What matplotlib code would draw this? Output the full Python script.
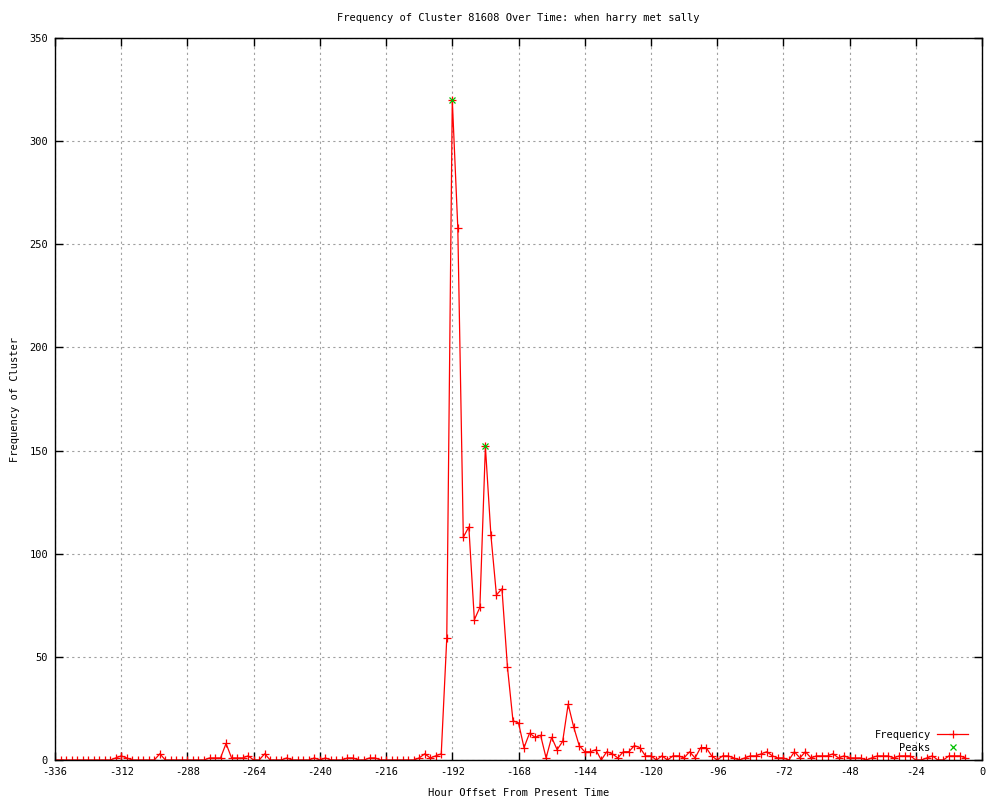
import matplotlib
matplotlib.use("Agg")
import matplotlib.pyplot as plt

plt.rcParams["font.family"] = ["DejaVu Sans Mono"]
plt.rcParams["font.size"] = 7.5
plt.rcParams["axes.unicode_minus"] = False

# hour offsets (every 2 hours) and cluster frequency
hours = list(range(-336, -5, 2))
freq = [
    0, 0, 0, 0, 0, 0, 0, 0, 0, 0, 0, 1, 2, 1, 0, 0, 0, 0, 0, 3,   # -336 .. -298
    0, 0, 0, 0, 0, 0, 0, 0, 1, 1, 1, 8, 1, 1, 1, 2, 0, 0, 3, 0,   # -296 .. -258
    0, 0, 1, 0, 0, 0, 0, 1, 0, 1, 0, 0, 0, 1, 1, 0, 0, 1, 1, 0,   # -256 .. -218
    0, 0, 0, 0, 0, 0, 1, 3, 1, 2, 3, 59, 320, 258, 108, 113, 68, 74, 152, 109,  # -216 .. -178
    80, 83, 45, 19, 18, 6, 13, 11, 12, 1, 11, 5, 9, 27, 16, 7, 4, 4, 5, 0,  # -176 .. -138
    4, 3, 1, 4, 4, 7, 6, 2, 2, 0, 2, 0, 2, 2, 1, 4, 1, 6, 6, 2,   # -136 .. -98
    0, 2, 2, 1, 0, 1, 2, 2, 3, 4, 2, 1, 1, 0, 4, 1, 4, 1, 2, 2,   # -96 .. -58
    2, 3, 1, 2, 1, 1, 1, 0, 1, 2, 2, 2, 1, 2, 2, 2, 0, 0, 1, 2,   # -56 .. -18
    0, 0, 2, 2, 2, 1,                                             # -16 .. -6
]
peak_hours = [-192, -180]
peak_freq = [320, 152]

xticks = list(range(-336, 1, 24))
yticks = list(range(0, 351, 50))

fig = plt.figure(figsize=(10, 8), dpi=100)
ax = fig.add_axes([0.055, 0.05, 0.927, 0.9025])

ax.plot(hours, freq, color="red", lw=0.9, marker="+", ms=5.5, mew=0.9,
        label="Frequency")
ax.plot(peak_hours, peak_freq, ls="none", color="#00c000", marker="x",
        ms=5, mew=0.9, label="Peaks")

ax.set_xlim(-336, 0)
ax.set_ylim(0, 350)
ax.set_xticks(xticks)
ax.set_yticks(yticks)
ax.tick_params(direction="in", length=6, width=1, top=True, right=True,
               labelsize=7.5, pad=5)
ax.grid(True, color="#a0a0a0", ls=(0, (2, 3)), lw=0.8)
for s in ax.spines.values():
    s.set_linewidth(1)

ax.set_title("Frequency of Cluster 81608 Over Time: when harry met sally",
             fontsize=7.5, pad=12)
ax.set_xlabel("Hour Offset From Present Time", fontsize=7.5, labelpad=8)
ax.set_ylabel("Frequency of Cluster", fontsize=7.5, labelpad=7)

leg = ax.legend(loc="lower right", bbox_to_anchor=(0.993, 0.0),
                markerfirst=False, frameon=False,
                fontsize=7.5, handlelength=3.0, borderaxespad=0.3,
                labelspacing=0.3, handletextpad=0.6)
for t in leg.get_texts():
    t.set_ha("right")

fig.savefig("out.png", dpi=100)
plt.close(fig)
